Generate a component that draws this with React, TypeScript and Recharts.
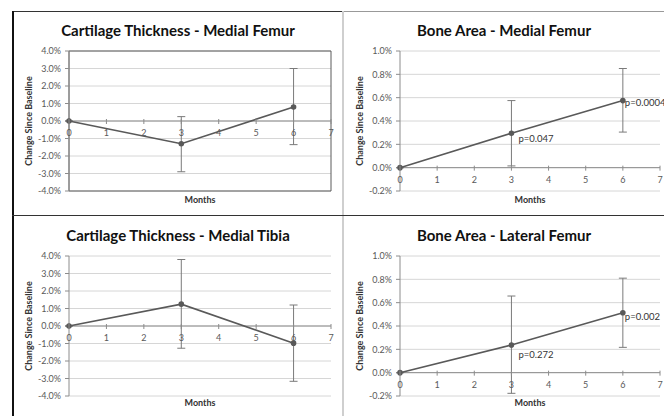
import React from "react";
import {
  LineChart,
  Line,
  XAxis,
  YAxis,
  CartesianGrid,
  ErrorBar,
  ReferenceLine,
  ReferenceArea,
  LabelList,
} from "recharts";

// months of follow-up
const months = [0, 3, 6];
const xTicks = [0, 1, 2, 3, 4, 5, 6, 7];

// cartilage thickness, % change since baseline
const cartFemurMean = [0, -1.3, 0.8];
const cartFemurHigh = [0, 0.25, 3.0];
const cartFemurLow = [0, -2.9, -1.35];

const cartTibiaMean = [0, 1.25, -0.98];
const cartTibiaHigh = [0, 3.8, 1.2];
const cartTibiaLow = [0, -1.27, -3.16];

const cartTicks = [-4, -3, -2, -1, 0, 1, 2, 3, 4];

// bone area, % change since baseline
const boneMedMean = [0, 0.295, 0.575];
const boneMedHigh = [0, 0.575, 0.85];
const boneMedLow = [0, 0.015, 0.305];
const boneMedP = ["", "p=0.047", "p=0.0004"];

const boneLatMean = [0, 0.237, 0.514];
const boneLatHigh = [0, 0.657, 0.81];
const boneLatLow = [0, -0.177, 0.217];
const boneLatP = ["", "p=0.272", "p=0.002"];

const boneTicks = [-0.2, 0, 0.2, 0.4, 0.6, 0.8, 1.0];

const PLOT_H = 140;
const FONT = "Lato, 'Open Sans', sans-serif";
const LINE = "#595959";

interface PanelProps {
  title: string;
  left: number;
  top: number;
  width: number;
  height: number;
  marginTop: number;
  marginRight: number;
  axisH: number;
  monthsOffset: number;
  mean: number[];
  high: number[];
  low: number[];
  pLabels?: string[];
  pOffsets?: [number, number][];
  yTicks: number[];
  boxed?: boolean;
}

function Panel({
  title,
  left,
  top,
  width,
  height,
  marginTop,
  marginRight,
  axisH,
  monthsOffset,
  mean,
  high,
  low,
  pLabels,
  pOffsets,
  yTicks,
  boxed,
}: PanelProps) {
  const yMin = yTicks[0];
  const yMax = yTicks[yTicks.length - 1];
  const data = months.map((m, i) => ({
    month: m,
    value: mean[i],
    err: [mean[i] - low[i], high[i] - mean[i]],
    p: pLabels ? pLabels[i] : "",
  }));
  // x axis crosses at 0, like Excel
  const zeroOffset = (PLOT_H * (0 - yMin)) / (yMax - yMin);

  const XTick = (props: any) => {
    const { x, y, payload } = props;
    const zy = y - zeroOffset;
    return (
      <g>
        <line x1={x} x2={x} y1={zy - 2} y2={zy + 3} stroke="#8c8c8c" />
        <text x={x} y={zy + 15} textAnchor="middle" fontSize={9} fontFamily={FONT} fill="#595959">
          {payload.value}
        </text>
      </g>
    );
  };

  const PLabel = (props: any) => {
    const { x, y, value, index } = props;
    if (!value) return null;
    const [dx, dy] = pOffsets ? pOffsets[index] : [6, 6];
    return (
      <text x={x + dx} y={y + dy} fontSize={9.5} fontFamily={FONT} fill="#333" dominantBaseline="middle">
        {value}
      </text>
    );
  };

  return (
    <div style={{ position: "absolute", left, top, width, height }}>
      <div
        style={{
          position: "absolute",
          left: 0,
          top: top < 100 ? 9 : 10,
          width,
          textAlign: "center",
          fontFamily: FONT,
          fontWeight: 700,
          fontSize: 15,
          lineHeight: "18px",
          color: "#111",
        }}
      >
        {title}
      </div>
      <LineChart
        width={width}
        height={height}
        data={data}
        margin={{ top: marginTop, right: marginRight, bottom: 0, left: 0 }}
      >
        <CartesianGrid horizontal vertical={false} stroke="#d6d6d6" />
        {boxed && (
          <ReferenceArea x1={0} x2={7} y1={yMin} y2={yMax} fill="none" stroke="#5a5a5a" strokeWidth={1} />
        )}
        <XAxis
          dataKey="month"
          type="number"
          domain={[0, 7]}
          ticks={xTicks}
          axisLine={false}
          tickLine={false}
          tickSize={0}
          tickMargin={0}
          height={axisH}
          interval={0}
          tick={XTick}
          label={{
            value: "Months",
            position: "insideBottom",
            offset: monthsOffset,
            style: { fontFamily: FONT, fontWeight: 700, fontSize: 9, fill: "#333" },
          }}
        />
        <YAxis
          type="number"
          domain={[yMin, yMax]}
          ticks={yTicks}
          allowDataOverflow
          width={56}
          axisLine={{ stroke: "#8c8c8c" }}
          tickLine={{ stroke: "#8c8c8c" }}
          tickSize={4}
          tickMargin={4}
          interval={0}
          tick={{ fontSize: 9, fontFamily: FONT, fill: "#595959" }}
          tickFormatter={(v: number) => `${v.toFixed(1)}%`}
          label={{
            value: "Change Since Baseline",
            angle: -90,
            position: "insideLeft",
            offset: 16,
            style: { textAnchor: "middle", fontFamily: FONT, fontWeight: 700, fontSize: 9, fill: "#333" },
          }}
        />
        <ReferenceLine y={0} stroke="#8c8c8c" />
        <Line
          dataKey="value"
          stroke={LINE}
          strokeWidth={1.6}
          dot={{ r: 2, fill: LINE, stroke: LINE }}
          isAnimationActive={false}
        >
          <ErrorBar dataKey="err" width={4} stroke="#7a7a7a" strokeWidth={1} direction="y" />
          {pLabels && <LabelList dataKey="p" content={PLabel} />}
        </Line>
      </LineChart>
    </div>
  );
}

export default function App() {
  return (
    <div style={{ position: "absolute", left: 0, top: 0, width: 664, height: 416, background: "#fff", overflow: "hidden" }}>
      {/* frame */}
      <div style={{ position: "absolute", left: 12, top: 11, width: 331, height: 1, background: "#333" }} />
      <div style={{ position: "absolute", left: 343, top: 11, width: 321, height: 1, background: "#999" }} />
      <div style={{ position: "absolute", left: 12, top: 11, width: 2, height: 405, background: "#111" }} />
      <div style={{ position: "absolute", left: 342, top: 11, width: 2, height: 405, background: "#cfcfcf" }} />
      <div style={{ position: "absolute", left: 12, top: 215, width: 652, height: 1, background: "#333" }} />

      <Panel
        title="Cartilage Thickness - Medial Femur"
        left={13}
        top={12}
        width={330}
        height={203}
        marginTop={39}
        marginRight={12}
        axisH={24}
        monthsOffset={12}
        mean={cartFemurMean}
        high={cartFemurHigh}
        low={cartFemurLow}
        yTicks={cartTicks}
        boxed
      />
      <Panel
        title="Bone Area - Medial Femur"
        left={344}
        top={12}
        width={320}
        height={203}
        marginTop={39}
        marginRight={4}
        axisH={24}
        monthsOffset={12}
        mean={boneMedMean}
        high={boneMedHigh}
        low={boneMedLow}
        pLabels={boneMedP}
        pOffsets={[
          [0, 0],
          [7, 6],
          [2, 3],
        ]}
        yTicks={boneTicks}
      />
      <Panel
        title="Cartilage Thickness - Medial Tibia"
        left={13}
        top={216}
        width={330}
        height={200}
        marginTop={40}
        marginRight={12}
        axisH={20}
        monthsOffset={10}
        mean={cartTibiaMean}
        high={cartTibiaHigh}
        low={cartTibiaLow}
        yTicks={cartTicks}
      />
      <Panel
        title="Bone Area - Lateral Femur"
        left={344}
        top={216}
        width={320}
        height={200}
        marginTop={40}
        marginRight={4}
        axisH={20}
        monthsOffset={10}
        mean={boneLatMean}
        high={boneLatHigh}
        low={boneLatLow}
        pLabels={boneLatP}
        pOffsets={[
          [0, 0],
          [7, 11],
          [2, 5],
        ]}
        yTicks={boneTicks}
      />
    </div>
  );
}
